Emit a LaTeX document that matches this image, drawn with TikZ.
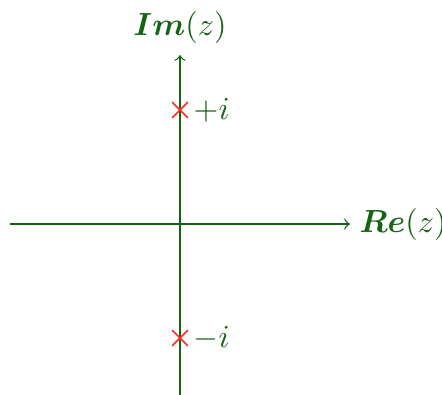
\documentclass[tikz,border=0pt]{standalone}
\usepackage{amsmath,bm}
\usetikzlibrary{shapes.misc}
\definecolor{axgreen}{RGB}{20,100,20}
\definecolor{polered}{RGB}{255,40,40}
\begin{document}
\begin{tikzpicture}[x=0.3125pt,y=-0.3125pt,
  axis/.style={axgreen, line width=0.4pt, -to},
  pole/.style={cross out, draw=polered, line width=0.5pt, minimum size=4.4pt, inner sep=0pt},
  lab/.style={text=axgreen, inner sep=0pt}]
\useasboundingbox (0,0) rectangle (442,394);
\clip (0,0) rectangle (442,394);
\coordinate (xl) at (10,224);
\coordinate (xr) at (350,224);
\coordinate (yb) at (180,400);
\coordinate (yt) at (180,55);
\draw[axis] (xl) -- (xr);
\draw[axis] (yb) -- (yt);
\node[lab, anchor=west] (re) at (359,224) {$\bm{Re}(z)$};
\node[lab] (im) at (180,27) {$\bm{Im}(z)$};
\node[pole] (p1) at (180,110) {};
\node[pole] (p2) at (180,338) {};
\node[lab, anchor=west] (l1) at (193,110) {$+i$};
\node[lab, anchor=west] (l2) at (193,338) {$-i$};
\end{tikzpicture}
\end{document}
